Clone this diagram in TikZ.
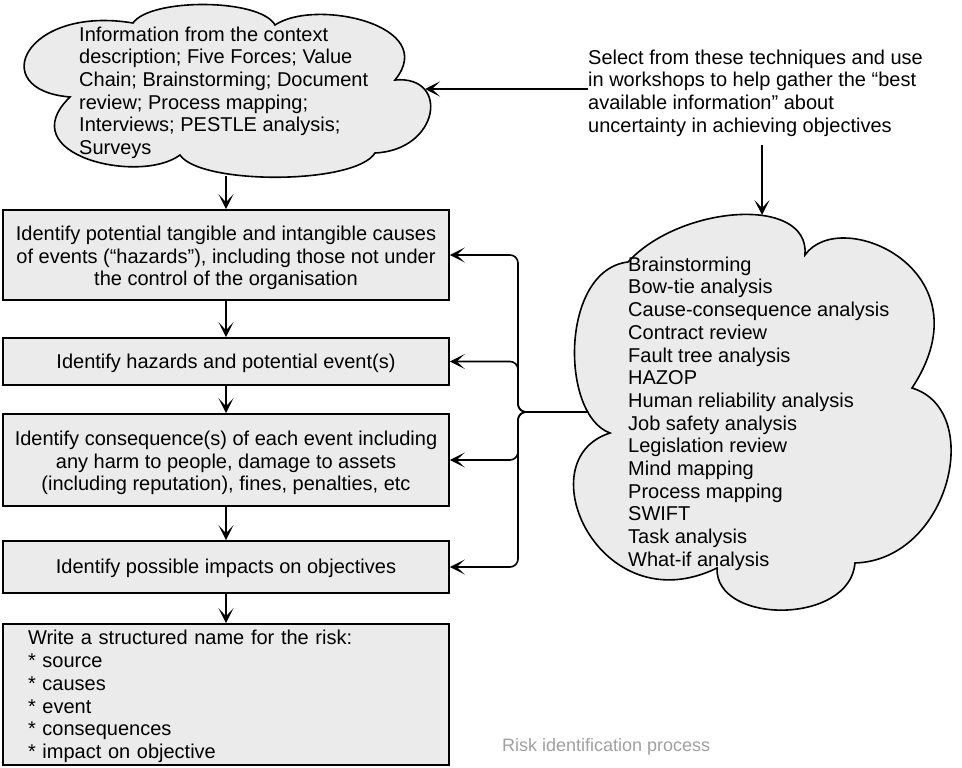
\documentclass[tikz,border=0pt]{standalone}
\usepackage{fontspec}
\setmainfont{Liberation Sans}
\usetikzlibrary{arrows.meta}
\definecolor{shapefill}{RGB}{235,235,235}
\definecolor{capgray}{RGB}{160,160,160}
\newcommand{\tstrut}[1]{\rule{0pt}{#1}}
\begin{document}
\begin{tikzpicture}[x=1pt,y=-1pt,
  every node/.style={font=\fontsize{20}{22.7}\selectfont},
  procbox/.style={draw=black, line width=1.6pt, fill=shapefill, minimum width=446pt, inner sep=0pt, align=center},
  cloudline/.style={draw=black, line width=1.6pt, fill=shapefill},
  arr/.style={-{Stealth[length=15pt,width=15pt,inset=8pt]}, line width=1.6pt},
  txt/.style={inner sep=0pt, align=left, anchor=north west},
]
\useasboundingbox (0,0) rectangle (962,768);
% cloud 1
\path[cloudline] (133,23) .. controls (150,-2) and (260,-2) .. (275,25)
 .. controls (315,-2) and (440,25) .. (395,80)
 .. controls (450,75) and (440,150) .. (375,153)
 .. controls (355,185) and (200,185) .. (180,155)
 .. controls (140,185) and (10,155) .. (70,97)
 .. controls (-15,90) and (25,5) .. (133,23) -- cycle;
% cloud 2
\path[cloudline] (628,262) .. controls (680,205) and (810,195) .. (805,255)
 .. controls (840,205) and (990,270) .. (912,388)
 .. controls (985,410) and (950,560) .. (855,563)
 .. controls (850,625) and (715,625) .. (717,568)
 .. controls (600,625) and (525,460) .. (610,433)
 .. controls (560,415) and (560,270) .. (628,262) -- cycle;

\node[txt] (c1) at (79,26.4) {Information from the context\\description; Five Forces; Value\\Chain; Brainstorming; Document\\review; Process mapping;\\Interviews; PESTLE analysis;\\Surveys};
\node[txt] (c2) at (628,256.6) {Brainstorming\\Bow-tie analysis\\Cause-consequence analysis\\Contract review\\Fault tree analysis\\HAZOP\\Human reliability analysis\\Job safety analysis\\Legislation review\\Mind mapping\\Process mapping\\SWIFT\\Task analysis\\What-if analysis};
\node[txt] (sel) at (588,49.4) {Select from these techniques and use\\in workshops to help gather the “best\\available information” about\\uncertainty in achieving objectives};

\node[procbox, minimum height=90pt] (b1) at (226,255) {\tstrut{20.6pt}Identify potential tangible and intangible causes\\of events (“hazards”), including those not under\\the control of the organisation};
\node[procbox, minimum height=47pt] (b2) at (226,361.5) {\tstrut{18.6pt}Identify hazards and potential event(s)};
\node[procbox, minimum height=92pt] (b3) at (226,460) {\tstrut{20.6pt}Identify consequence(s) of each event including\\any harm to people, damage to assets\\(including reputation), fines, penalties, etc};
\node[procbox, minimum height=52pt] (b4) at (226,567) {\tstrut{16.6pt}Identify possible impacts on objectives};
\node[procbox, minimum height=141pt, text width=396pt, inner xsep=25pt, align=left] (b5) at (226,694.5) {\tstrut{18.6pt}Write a structured name for the risk:\\{*} source\\{*} causes\\{*} event\\{*} consequences\\{*} impact on objective};

\node[inner sep=0pt, anchor=base west, text=capgray, font=\fontsize{18}{21}\selectfont] (cap) at (502,751) {Risk identification process};

\coordinate (c1b) at (226,176);
\coordinate (c1r) at (425,89);
\coordinate (selb) at (762,145);
\coordinate (c2t) at (762,215);
\coordinate (c2l) at (588,412);
\coordinate (jn) at (518,412);

\draw[arr] (c1b) -- (b1.north);
\draw[arr] (b1.south) -- (b2.north);
\draw[arr] (b2.south) -- (b3.north);
\draw[arr] (b3.south) -- (b4.north);
\draw[arr] (b4.south) -- (b5.north);
\draw[arr] (sel.west |- c1r) -- (c1r);
\draw[arr] (selb) -- (c2t);
\draw[arr, rounded corners=8pt] (c2l) -- (jn) -- (jn |- b1.east) -- (b1.east);
\draw[arr, rounded corners=8pt] (c2l) -- (jn) -- (jn |- b2.east) -- (b2.east);
\draw[arr, rounded corners=8pt] (c2l) -- (jn) -- (jn |- b3.east) -- (b3.east);
\draw[arr, rounded corners=8pt] (c2l) -- (jn) -- (jn |- b4.east) -- (b4.east);
\end{tikzpicture}
\end{document}
